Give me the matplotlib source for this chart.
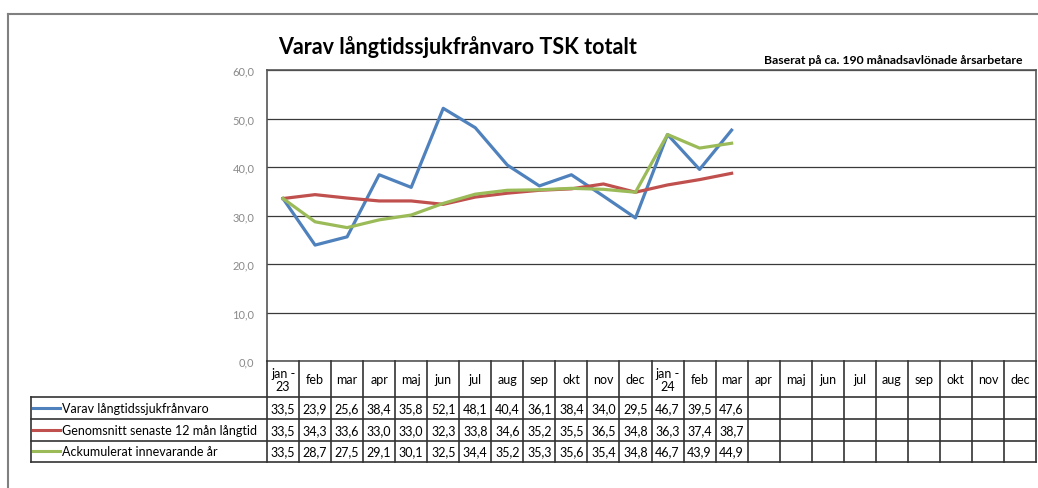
import matplotlib
matplotlib.use('Agg')
import matplotlib.pyplot as plt
import matplotlib.transforms as mtransforms
import numpy as np

plt.rcParams['font.family'] = ['Lato', 'DejaVu Sans']

# ---------------- data ----------------
months = ['jan -\n23', 'feb', 'mar', 'apr', 'maj', 'jun', 'jul', 'aug', 'sep', 'okt', 'nov', 'dec',
          'jan -\n24', 'feb', 'mar', 'apr', 'maj', 'jun', 'jul', 'aug', 'sep', 'okt', 'nov', 'dec']
series_names = ['Varav långtidssjukfrånvaro',
                'Genomsnitt senaste 12 mån långtid',
                'Ackumulerat innevarande år']
varav = [33.5, 23.9, 25.6, 38.4, 35.8, 52.1, 48.1, 40.4, 36.1, 38.4, 34.0, 29.5, 46.7, 39.5, 47.6]
genomsnitt = [33.5, 34.3, 33.6, 33.0, 33.0, 32.3, 33.8, 34.6, 35.2, 35.5, 36.5, 34.8, 36.3, 37.4, 38.7]
ackumulerat = [33.5, 28.7, 27.5, 29.1, 30.1, 32.5, 34.4, 35.2, 35.3, 35.6, 35.4, 34.8, 46.7, 43.9, 44.9]
yticks = [0, 10, 20, 30, 40, 50, 60]
title = 'Varav långtidssjukfrånvaro TSK totalt'
subtitle = 'Baserat på ca. 190 månadsavlönade årsarbetare'

series = [varav, genomsnitt, ackumulerat]
colors = ['#4F81BD', '#C0504D', '#9BBB59']

# ---------------- layout ----------------
W, H = 1038, 489
fig = plt.figure(figsize=(W / 100, H / 100), dpi=100)
fig.patch.set_facecolor('white')

def fx(px):
    return px / W

def fy(py):
    return 1 - py / H

L, R, T, B = 267, 1036, 71, 362
ax = fig.add_axes([fx(L), fy(B), fx(R) - fx(L), fy(T) - fy(B)])
ax.set_xlim(-0.5, len(months) - 0.5)
ax.set_ylim(0, 60)

x = np.arange(len(months))
for s, c in zip(series, colors):
    ax.plot(x[:len(s)], s, color=c, lw=2.3, zorder=3)

ax.set_yticks(yticks)
ax.set_yticklabels([f"{v:.1f}".replace('.', ',') for v in yticks], fontsize=8, color='#8a8a8a')
ax.tick_params(axis='y', length=0, pad=9)
ax.set_xticks([])
ax.grid(axis='y', color='#3a3a3a', lw=0.9, zorder=1)
for sp in ax.spines.values():
    sp.set_color('#555555')
    sp.set_linewidth(1.2)

# overlay in pixel coordinates
ov = fig.add_axes([0, 0, 1, 1])
ov.set_xlim(0, W)
ov.set_ylim(H, 0)
ov.axis('off')

# outer frame (cropped on right/bottom)
ov.plot([8, 8], [15, H], color='#808080', lw=1.5, clip_on=False)
ov.plot([8, W], [15, 15], color='#808080', lw=1.5, clip_on=False)

# titles
ov.text(458, 47, title, fontsize=15.5, fontweight='bold', ha='center', va='center')
ov.text(1022, 60, subtitle, fontsize=8.8, fontweight='bold', ha='right', va='center')

# table
blend = mtransforms.blended_transform_factory(ax.transData, ov.transData)
hdr_top, hdr_bot = 362, 398
row_edges = [398, 420, 441.5, 463]
leg_left = 31
tcol = '#333333'
tlw = 1.2

# vertical lines at column boundaries
for i in range(len(months) + 1):
    ov.plot([i - 0.5, i - 0.5], [hdr_top, row_edges[-1]], color=tcol, lw=tlw,
            transform=blend, clip_on=False)
# horizontal lines
for yy in row_edges:
    ov.plot([leg_left, R], [yy, yy], color=tcol, lw=tlw, clip_on=False)
ov.plot([leg_left, leg_left], [row_edges[0], row_edges[-1]], color=tcol, lw=tlw, clip_on=False)

# header month labels
for i, m in enumerate(months):
    ov.text(i, (hdr_top + hdr_bot) / 2 + 0.5, m, transform=blend, fontsize=9,
            ha='center', va='center', linespacing=1.15)

# rows
for r, (name, s, c) in enumerate(zip(series_names, series, colors)):
    yc = (row_edges[r] + row_edges[r + 1]) / 2
    ov.plot([33, 60], [yc, yc], color=c, lw=2.2, clip_on=False)
    ov.text(62, yc, name, fontsize=9, ha='left', va='center')
    for i, v in enumerate(s):
        ov.text(i, yc, f"{v:.1f}".replace('.', ','), transform=blend, fontsize=9,
                ha='center', va='center')

fig.savefig('out.png', dpi=100)
